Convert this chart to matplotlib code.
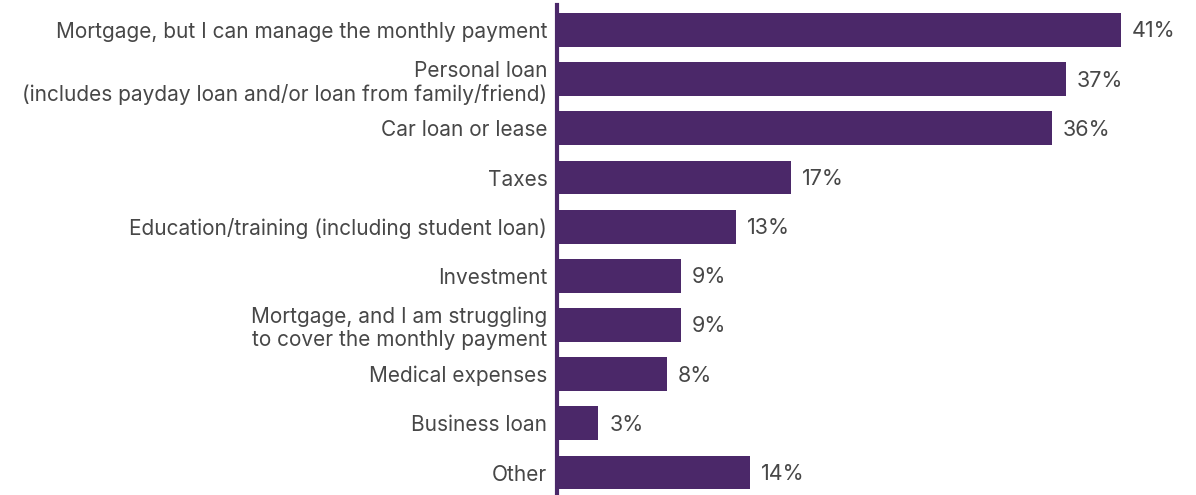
import matplotlib.pyplot as plt

# Share of respondents holding each type of debt
categories = [
    "Mortgage, but I can manage the monthly payment",
    "Personal loan\n(includes payday loan and/or loan from family/friend)",
    "Car loan or lease",
    "Taxes",
    "Education/training (including student loan)",
    "Investment",
    "Mortgage, and I am struggling\nto cover the monthly payment",
    "Medical expenses",
    "Business loan",
    "Other",
]
values = [41, 37, 36, 17, 13, 9, 9, 8, 3, 14]
value_labels = ["41%", "37%", "36%", "17%", "13%", "9%", "9%", "8%", "3%", "14%"]

BAR_COLOR = "#4b2869"
TEXT_COLOR = "#474747"
FONT_SIZE = 15

plt.rcParams["font.family"] = ["Inter", "DejaVu Sans"]

fig = plt.figure(figsize=(11.96, 4.95), dpi=100)
ax = fig.add_axes([557 / 1196, 0.0, 1 - 557 / 1196, 1 - 5.4 / 495])

positions = list(range(len(categories)))
ax.barh(positions, values, height=0.69, color=BAR_COLOR)

ax.set_xlim(0, (1196 - 557) / 13.75)
ax.set_ylim(9.457, -0.5)

for pos, val, lab in zip(positions, values, value_labels):
    ax.annotate(lab, (val, pos), xytext=(8, -1), textcoords="offset points",
                va="center", ha="left", fontsize=FONT_SIZE + 0.5,
                color=TEXT_COLOR)

ax.set_yticks(positions)
ax.set_yticklabels(categories, fontsize=FONT_SIZE, color=TEXT_COLOR,
                   linespacing=1.2)
ax.tick_params(axis="y", length=0, pad=7)
ax.set_xticks([])

for side in ["top", "right", "bottom"]:
    ax.spines[side].set_visible(False)
ax.spines["left"].set_color(BAR_COLOR)
ax.spines["left"].set_linewidth(3)

fig.savefig("out.png", dpi=100)
